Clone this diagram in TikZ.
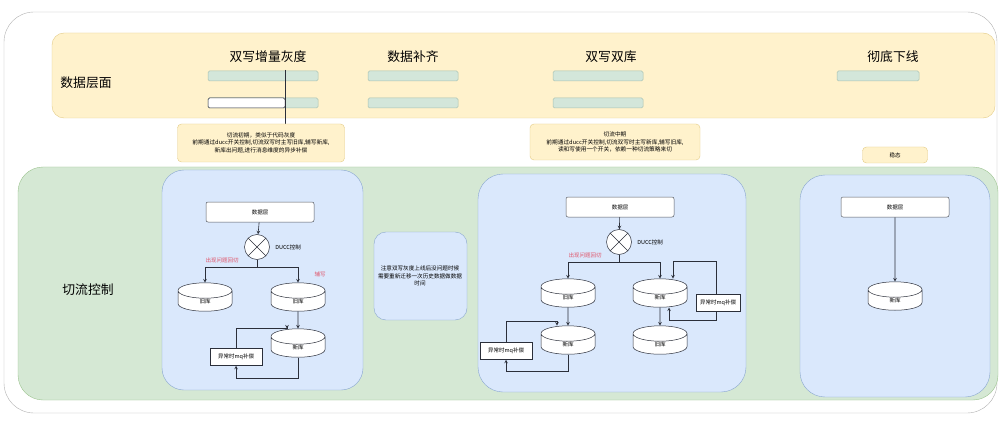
\documentclass[tikz,border=0pt]{standalone}
\usepackage{fontspec}
\setmainfont{Noto Sans CJK SC}
\usetikzlibrary{shapes.geometric,positioning}

\definecolor{bandfill}{HTML}{FFF2CC}
\definecolor{banddraw}{HTML}{E3CB85}
\definecolor{flowfill}{HTML}{D5E8D4}
\definecolor{flowdraw}{HTML}{9CC38F}
\definecolor{panelfill}{HTML}{DAE8FC}
\definecolor{paneldraw}{HTML}{8AA6CF}
\definecolor{barfill}{HTML}{D3E6DA}
\definecolor{bardraw}{HTML}{A9C2B2}
\definecolor{linecol}{HTML}{2B2F3A}
\definecolor{warnred}{HTML}{E0566B}

\tikzset{
  bar/.style={draw=bardraw,fill=barfill,rounded corners=1.5pt,minimum width=90pt,minimum height=10pt,inner sep=0pt,line width=0.5pt},
  stage/.style={font=\fontsize{12.8}{15}\selectfont},
  note/.style={draw=banddraw,fill=bandfill,rounded corners=4pt,align=center,font=\fontsize{5.7}{7.2}\selectfont,inner sep=2pt},
  layer/.style={draw=linecol!80,fill=white,rounded corners=2pt,minimum width=108pt,minimum height=20pt,font=\fontsize{5.5}{7}\selectfont,line width=0.5pt},
  switch/.style={draw=linecol,fill=white,circle,minimum size=25pt,inner sep=0pt,line width=0.5pt,
    path picture={\draw[linecol,line width=0.5pt] (path picture bounding box.north west) -- (path picture bounding box.south east)
      (path picture bounding box.north east) -- (path picture bounding box.south west);}},
  db/.style={cylinder,shape border rotate=90,aspect=1.4,draw=linecol,fill=white,minimum width=54pt,minimum height=28pt,inner sep=0pt,font=\fontsize{5.5}{7}\selectfont,line width=0.5pt},
  mqbox/.style={draw=linecol,fill=white,minimum width=52pt,minimum height=17pt,inner sep=0pt,font=\fontsize{5.5}{7}\selectfont,line width=0.5pt},
  flow/.style={draw=linecol,line width=0.6pt},
  tag/.style={font=\fontsize{5.5}{7}\selectfont},
  redtag/.style={text=warnred,font=\fontsize{5.5}{7}\selectfont}
}

\begin{document}
\begin{tikzpicture}[x=1pt,y=-1pt,>=stealth]
\useasboundingbox (0,0) rectangle (999,425);
% outer frame and bands
\draw[draw=gray!60,fill=white,rounded corners=30pt] (4,12) rectangle (997,413);
\draw[draw=banddraw,fill=bandfill,rounded corners=12pt] (52,33) rectangle (995,118);
\draw[draw=flowdraw,fill=flowfill,rounded corners=25pt] (18,167) rectangle (998,400);
\node[font=\fontsize{12.8}{15}\selectfont] (datalvl) at (86,83) {数据层面};
\node[font=\fontsize{12.8}{15}\selectfont] (flowlvl) at (88,290) {切流控制};

% stages
\node[stage] (s1) at (268,57) {双写增量灰度};
\node[stage] (s2) at (413,57) {数据补齐};
\node[stage] (s3) at (611,57) {双写双库};
\node[stage] (s4) at (893,57) {彻底下线};
\node[bar,minimum width=110pt] (b11) at (263,76) {};
\node[bar,minimum width=110pt] (b12) at (263,103) {};
\draw[draw=linecol,fill=white,rounded corners=1.5pt,line width=0.5pt] (208,98) rectangle (285,108);
\node[bar] (b21) at (413,76) {};
\node[bar] (b22) at (413,103) {};
\node[bar] (b31) at (598,76) {};
\node[bar] (b32) at (598,103) {};
\node[bar,minimum width=82pt] (b41) at (878,76) {};
\draw[linecol,line width=0.5pt] (285,70) -- (285,128);

% notes
\node[note,minimum width=167pt,minimum height=38pt] (n1) at (261,143) {切流初期，类似于代码灰度\\前期通过ducc开关控制,切流双写时主写旧库,辅写新库,\\新库出问题,进行消息维度的异步补偿};
\node[note,minimum width=170pt,minimum height=36pt] (n2) at (615,142) {切流中期\\前期通过ducc开关控制,切流双写时主写新库,辅写旧库,\\读和写使用一个开关，依赖一种切流策略来切};
\node[note,minimum width=65pt,minimum height=16pt,font=\fontsize{5.5}{7}\selectfont] (n3) at (895,155) {稳态};

% panels
\draw[draw=paneldraw,fill=panelfill,rounded corners=22pt] (162,170) rectangle (363,390);
\draw[draw=paneldraw,fill=panelfill,rounded corners=12pt] (374,232) rectangle (467,320);
\draw[draw=paneldraw,fill=panelfill,rounded corners=25pt] (478,174) rectangle (746,392);
\draw[draw=paneldraw,fill=panelfill,rounded corners=25pt] (800,175) rectangle (990,397);
\node[align=center,font=\fontsize{5.6}{7.2}\selectfont] (n4) at (420,276) {注意双写灰度上线后没问题时候\\需要重新迁移一次历史数据做数据\\时间};

% left panel
\node[layer] (ldata) at (260,212) {数据层};
\node[switch] (lducc) at (257,247) {};
\node[tag,right=2pt of lducc] (lducctxt) {DUCC控制};
\node[db] (lold1) at (205,301) {旧库};
\node[db] (lold2) at (298,301) {旧库};
\node[db] (lnew) at (298,347) {新库};
\node[mqbox] (lmq) at (236,357) {异常时mq补偿};
\node[redtag] (lback) at (222,260) {出现问题回切};
\node[redtag] (lsub) at (320,274) {辅写};
\draw[flow,->] (ldata) -- (lducc);
\draw[flow] (lducc.south) -- ++(0,8) coordinate (lsplit);
\draw[flow,->] (lsplit) -| (lold1.north);
\draw[flow,->] (lsplit) -| (lold2.north);
\draw[flow,->] (lold2.south) -- (lnew.north);
\draw[flow,->] (lnew.south) -- ++(0,21) -| (lmq.south);
\draw[flow,->] (lmq.north) -- ++(0,-20) -| ([xshift=-11pt]lnew.north);

% middle panel
\node[layer] (mdata) at (620,207) {数据层};
\node[switch] (mducc) at (619,242) {};
\node[tag,right=2pt of mducc] (mducctxt) {DUCC控制};
\node[redtag] (mback) at (585,255) {出现问题回切};
\node[db] (mold1) at (568,297) {旧库};
\node[db] (mnew1) at (660,297) {新库};
\node[db] (mnew2) at (568,344) {新库};
\node[db] (mold2) at (660,344) {旧库};
\node[mqbox] (mmq1) at (506,351) {异常时mq补偿};
\node[mqbox,minimum width=44pt] (mmq2) at (718,303) {异常时mq补偿};
\draw[flow,->] (mdata) -- (mducc);
\draw[flow] (mducc.south) -- ++(0,8) coordinate (msplit);
\draw[flow,->] (msplit) -| (mold1.north);
\draw[flow,->] (msplit) -| (mnew1.north);
\draw[flow,->] (mold1.south) -- (mnew2.north);
\draw[flow,->] (mnew1.south) -- (mold2.north);
\draw[flow,->] (mnew2.south) -- ++(0,17) -| (mmq1.south);
\draw[flow,->] (mmq1.north) -- ++(0,-21) -| ([xshift=-11pt]mnew2.north);
\draw[flow,->] ([xshift=-2pt]mmq2.north) -- ++(0,-33) -| ([xshift=13pt]mnew1.north);
\draw[flow,->] ([xshift=-2pt]mmq2.south) -- ++(0,9) -| ([xshift=9pt]mnew1.south);

% right panel
\node[layer] (rdata) at (895,207) {数据层};
\node[db] (rnew) at (895,300) {新库};
\draw[flow,->] (rdata) -- (rnew.north);
\end{tikzpicture}
\end{document}
